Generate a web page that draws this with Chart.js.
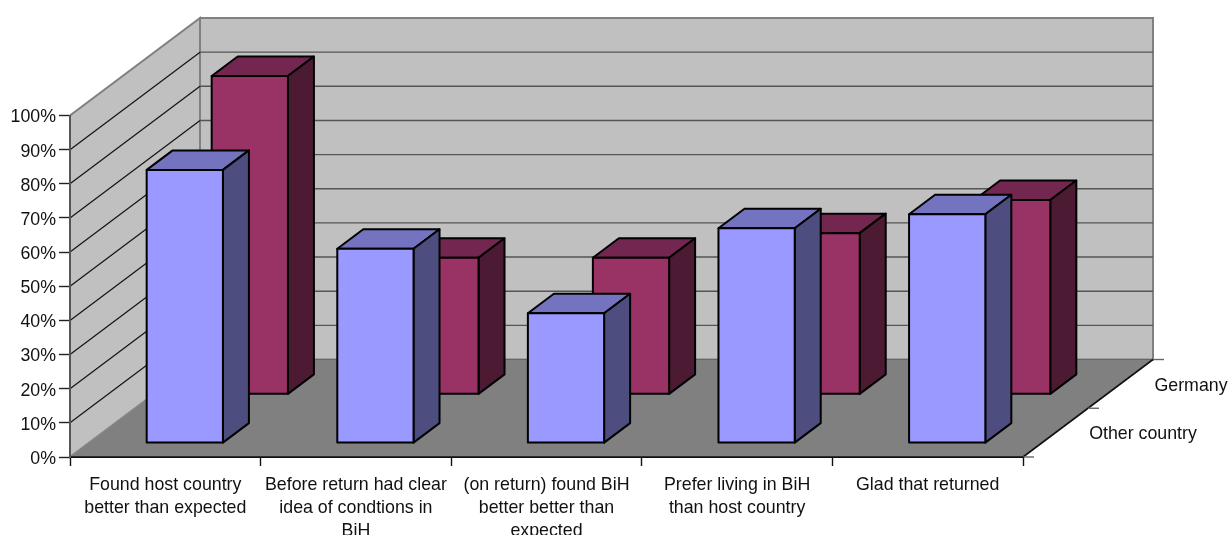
<!DOCTYPE html>
<html>
<head>
<meta charset="utf-8">
<style>
  html, body { margin: 0; padding: 0; background: #fff; overflow: hidden; }
  #wrap { position: relative; width: 1231px; height: 535px; }
</style>
<script src="https://cdn.jsdelivr.net/npm/chart.js@4"></script>
</head>
<body>
<div id="wrap"><canvas id="grafico"></canvas></div>
<script>
const categories = [
  ["Found host country", "better than expected"],
  ["Before return had clear", "idea of condtions in", "BiH"],
  ["(on return) found BiH", "better better than", "expected"],
  ["Prefer living in BiH", "than host country"],
  ["Glad that returned"]
];
const otherCountry = [80, 56.9, 38, 62.9, 67];
const germany = [93.2, 40, 40, 47.2, 56.9];
const seriesNames = ["Other country", "Germany"];

const FONT = "Liberation Sans";
const FONT_SIZE = 17.8;

// 3D box: full depth of the floor and how each series sits in it
const DEPTH_X = 130, DEPTH_Y = 97.5;
const BAR_DX = 26, BAR_DY = 19.5;

function poly(ctx, pts, fill, stroke, lw) {
  ctx.beginPath();
  pts.forEach((p, i) => i ? ctx.lineTo(p[0], p[1]) : ctx.moveTo(p[0], p[1]));
  ctx.closePath();
  if (fill) { ctx.fillStyle = fill; ctx.fill(); }
  if (stroke) { ctx.strokeStyle = stroke; ctx.lineWidth = lw; ctx.stroke(); }
}

function line(ctx, x1, y1, x2, y2, color, lw) {
  ctx.beginPath();
  ctx.moveTo(x1, y1);
  ctx.lineTo(x2, y2);
  ctx.strokeStyle = color;
  ctx.lineWidth = lw;
  ctx.stroke();
}

// Walls and floor
const box3d = {
  id: "box3d",
  beforeDraw(chart) {
    const ctx = chart.ctx, a = chart.chartArea, y = chart.scales.y;
    const l = a.left, r = a.right, b = a.bottom, t = y.getPixelForValue(100);
    const bl = l + DEPTH_X, br = r + DEPTH_X, bb = b - DEPTH_Y, bt = t - DEPTH_Y;
    // y labels sit a little lower than the tick in the original
    y.getLabelItems().forEach(it => {
      if (!it.shifted) { it.options.translation[1] += 2; it.shifted = true; }
    });
    ctx.save();
    poly(ctx, [[l, b], [bl, bb], [bl, bt], [l, t]], "#C0C0C0", "#808080", 2);
    poly(ctx, [[bl, bb], [br, bb], [br, bt], [bl, bt]], "#C0C0C0", "#808080", 2);
    y.ticks.forEach(tk => {
      if (tk.value === 0 || tk.value === 100) return;
      const py = y.getPixelForValue(tk.value);
      line(ctx, l, py, bl, py - DEPTH_Y, "#111", 1.2);
      line(ctx, bl, py - DEPTH_Y, br, py - DEPTH_Y, "#555", 1.4);
    });
    poly(ctx, [[l, b], [bl, bb], [br, bb], [r, b]], "#808080", null);
    line(ctx, bl, bb, br, bb, "#666", 1);
    line(ctx, l, b, bl, bb, "#888", 1);
    line(ctx, l, b, r, b, "#111", 1.6);
    line(ctx, r, b, br, bb, "#111", 1.6);
    // depth axis ticks and series names
    ctx.font = FONT_SIZE + "px '" + FONT + "'";
    ctx.fillStyle = "#111";
    ctx.textAlign = "center";
    ctx.textBaseline = "middle";
    [0, 0.5, 1].forEach(f => {
      const px = r + DEPTH_X * f, py = b - DEPTH_Y * f;
      line(ctx, px, py, px + 11, py, "#666", 1.4);
    });
    ctx.fillText(seriesNames[0], r + 120, b - 23);
    ctx.fillText(seriesNames[1], r + 168, b - 71);
    ctx.restore();
  },
  beforeDatasetDraw(chart, args) {
    const i = args.index, ctx = chart.ctx;
    const styles = i === 0
      ? { front: "#9999FF", top: "#7373BF", side: "#4D4D80" }
      : { front: "#993366", top: "#732650", side: "#4D1A33" };
    // each series fills half of the floor depth, bar centred in its slot
    const slotX = DEPTH_X / 2, slotY = DEPTH_Y / 2;
    const ox = (slotX - BAR_DX) / 2 + i * slotX;
    const oy = (slotY - BAR_DY) / 2 + i * slotY - 0.7;
    ctx.save();
    ctx.lineJoin = "round";
    args.meta.data.forEach(el => {
      const x1 = el.x - el.width / 2 + ox, x2 = el.x + el.width / 2 + ox;
      const yt = el.y - oy, yb = el.base - oy;
      poly(ctx, [[x1, yt], [x1 + BAR_DX, yt - BAR_DY], [x2 + BAR_DX, yt - BAR_DY], [x2, yt]], styles.top, "#000", 2);
      poly(ctx, [[x2, yt], [x2 + BAR_DX, yt - BAR_DY], [x2 + BAR_DX, yb - BAR_DY], [x2, yb]], styles.side, "#000", 2);
      poly(ctx, [[x1, yt], [x2, yt], [x2, yb], [x1, yb]], styles.front, "#000", 2);
    });
    ctx.restore();
    return false;
  }
};

const canvas = document.getElementById("grafico");
canvas.style.width = "1231px";
canvas.style.height = "535px";
canvas.width = 1231;
canvas.height = 535;

new Chart(canvas, {
  type: "bar",
  data: {
    labels: categories,
    datasets: [
      { label: seriesNames[0], data: otherCountry, backgroundColor: "#9999FF" },
      { label: seriesNames[1], data: germany, backgroundColor: "#993366" }
    ]
  },
  options: {
    responsive: false,
    animation: false,
    grouped: false,
    categoryPercentage: 0.4,
    barPercentage: 1,
    layout: { autoPadding: false, padding: { top: 115.5, right: 208, left: 0, bottom: 0 } },
    plugins: { legend: { display: false }, tooltip: { enabled: false } },
    scales: {
      x: {
        afterFit(s) { s.height = 78; },
        grid: { drawOnChartArea: false, tickLength: 9, color: "#111", tickWidth: 1.4 },
        border: { color: "#111", width: 1 },
        ticks: {
          autoSkip: false, maxRotation: 0, minRotation: 0, padding: 8, color: "#111",
          font: { family: FONT, size: FONT_SIZE, lineHeight: 1.28 }
        }
      },
      y: {
        min: 0, max: 100,
        afterFit(s) { s.width = 70; },
        grid: { drawOnChartArea: false, tickLength: 11, color: "#222", tickWidth: 1.4 },
        border: { color: "#555", width: 2 },
        ticks: {
          stepSize: 10, padding: 3, color: "#111",
          font: { family: FONT, size: FONT_SIZE },
          callback: v => v + "%"
        }
      }
    }
  },
  plugins: [box3d]
});
</script>
</body>
</html>
